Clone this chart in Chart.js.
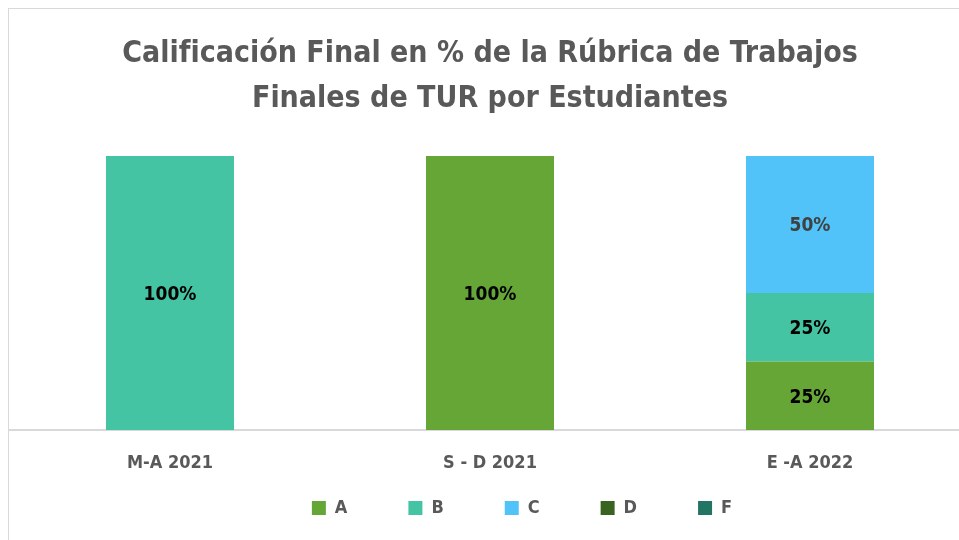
<!DOCTYPE html>
<html lang="es">
<head>
    <meta charset="UTF-8">
    <script src="https://cdn.jsdelivr.net/npm/chart.js"></script>
    <title>Calificación Final</title>
    <style>
        body { margin: 0; overflow: hidden; background: #fff; }
        .marco {
            position: absolute; left: 8px; top: 8px;
            width: 962px; height: 531px;
            border-left: 1px solid #d9d9d9; border-top: 1px solid #d9d9d9;
        }
    </style>
</head>
<body>
    <div class="marco">
        <canvas id="grafico" width="962" height="531"></canvas>
    </div>
    <script>
        // datos
        const categorias = ['M-A 2021', 'S - D 2021', 'E -A 2022'];
        const notaA = [0, 100, 25];
        const notaB = [100, 0, 25];
        const notaC = [0, 0, 50];
        const notaD = [0, 0, 0];
        const notaF = [0, 0, 0];

        const fuente = "'Liberation Sans Narrow', 'DejaVu Sans Condensed', sans-serif";

        // etiquetas dentro de las barras
        const etiquetas = {
            id: 'etiquetas',
            afterDatasetsDraw(chart) {
                const ctx = chart.ctx;
                ctx.save();
                ctx.font = 'bold 19px ' + fuente;
                ctx.textAlign = 'center';
                ctx.textBaseline = 'middle';
                chart.data.datasets.forEach((ds, i) => {
                    chart.getDatasetMeta(i).data.forEach((bar, j) => {
                        if (!ds.data[j]) return;
                        ctx.fillStyle = ds.colorEtiqueta;
                        ctx.fillText(ds.data[j] + '%', bar.x, (bar.y + bar.base) / 2 + 2);
                    });
                });
                ctx.restore();
            }
        };

        // la leyenda va debajo de los rotulos del eje, como en el original
        const moverLeyenda = {
            id: 'moverLeyenda',
            afterLayout(chart) {
                const lg = chart.legend;
                lg.left += 32;
                lg.right += 32;
                lg.top = 499 - 61 - 9;
                lg.bottom = chart.height;
                lg.height = lg.bottom - lg.top;
            }
        };

        new Chart(document.getElementById('grafico'), {
            type: 'bar',
            data: {
                labels: categorias,
                datasets: [
                    { label: 'A', data: notaA, backgroundColor: '#65a637', colorEtiqueta: '#000' },
                    { label: 'B', data: notaB, backgroundColor: '#45c4a3', colorEtiqueta: '#000' },
                    { label: 'C', data: notaC, backgroundColor: '#51c3f9', colorEtiqueta: '#404040' },
                    { label: 'D', data: notaD, backgroundColor: '#3a6321', colorEtiqueta: '#fff' },
                    { label: 'F', data: notaF, backgroundColor: '#237563', colorEtiqueta: '#fff' }
                ]
            },
            options: {
                responsive: false,
                animation: false,
                layout: { padding: { left: 1, right: 1, top: 0, bottom: 0 } },
                datasets: { bar: { categoryPercentage: 1, barPercentage: 0.4 } },
                scales: {
                    x: {
                        stacked: true,
                        grid: { display: false, drawTicks: false },
                        border: { color: '#d9d9d9', width: 2 },
                        ticks: { color: '#595959', padding: 23, font: { family: fuente, size: 18, weight: 'bold' } },
                        afterFit(scale) { scale.height = 50; }
                    },
                    y: { stacked: true, display: false, min: 0, max: 100 }
                },
                plugins: {
                    title: {
                        display: true,
                        text: ['Calificación Final en % de la Rúbrica de Trabajos', 'Finales de TUR por Estudiantes'],
                        color: '#595959',
                        font: { family: fuente, size: 30, weight: 'bold', lineHeight: 1.5 },
                        padding: { top: 23, bottom: 34 }
                    },
                    legend: {
                        position: 'bottom',
                        maxHeight: 60,
                        labels: {
                            boxWidth: 14, boxHeight: 14, padding: 61,
                            color: '#595959',
                            font: { family: fuente, size: 18, weight: 'bold' }
                        }
                    },
                    tooltip: { enabled: false }
                }
            },
            plugins: [etiquetas, moverLeyenda]
        });
    </script>
</body>
</html>
